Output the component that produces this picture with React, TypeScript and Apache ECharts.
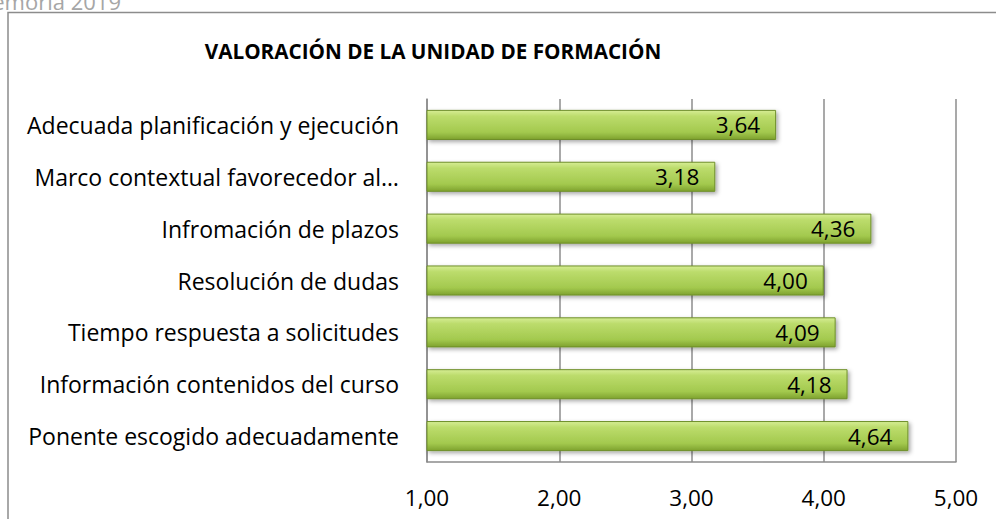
import React, { useEffect, useRef } from "react";
import * as echarts from "echarts";

const categories = [
  "Adecuada planificación y ejecución",
  "Marco contextual favorecedor al…",
  "Infromación de plazos",
  "Resolución de dudas",
  "Tiempo respuesta a solicitudes",
  "Información contenidos del curso",
  "Ponente escogido adecuadamente",
];
const values = [3.64, 3.18, 4.36, 4.0, 4.09, 4.18, 4.64];
const xTicks = [1, 2, 3, 4, 5];

const FONT = "'Open Sans', Lato, sans-serif";

export default function App() {
  const ref = useRef<HTMLDivElement>(null);
  useEffect(() => {
    if (!ref.current) return;
    const chart = echarts.init(ref.current, null, { renderer: "svg" });
    chart.setOption({
      animation: false,
      backgroundColor: "#ffffff",
      textStyle: { fontFamily: FONT },
      graphic: [
        {
          type: "polyline",
          shape: { points: [[8, 600], [8, 12.5], [1000, 12.5]] },
          style: { stroke: "#8c8c8c", lineWidth: 1.5, fill: null },
          silent: true,
        },
        {
          type: "text",
          x: 121,
          y: 12,
          style: {
            text: "Memoria 2019",
            fill: "#a6a6a6",
            font: `22px ${FONT}`,
            align: "right",
            verticalAlign: "bottom",
          },
        },
        {
          type: "text",
          x: 433,
          y: 51,
          style: {
            text: "VALORACIÓN DE LA UNIDAD DE FORMACIÓN",
            fill: "#000000",
            font: `bold 20.7px ${FONT}`,
            align: "center",
            verticalAlign: "middle",
          },
        },
      ],
      grid: { left: 427, right: 40, top: 99, bottom: 57, containLabel: false },
      xAxis: {
        type: "value",
        min: 1,
        max: 5,
        interval: 1,
        axisLine: { show: true, lineStyle: { color: "#8c8c8c", width: 1.5 } },
        axisTick: { show: false },
        splitLine: { show: true, lineStyle: { color: "#8c8c8c", width: 1.5 } },
        axisLabel: {
          color: "#000",
          fontSize: 22.5,
          fontFamily: FONT,
          margin: 24,
          formatter: (v: number) =>
            xTicks.includes(v) ? v.toFixed(2).replace(".", ",") : "",
        },
      },
      yAxis: {
        type: "category",
        data: categories,
        inverse: true,
        axisLine: { show: true, lineStyle: { color: "#8c8c8c", width: 1.5 } },
        axisTick: { show: false },
        axisLabel: { color: "#000", fontSize: 23, fontFamily: FONT, margin: 28 },
      },
      series: [
        {
          type: "bar",
          data: values,
          barCategoryGap: "42%",
          itemStyle: {
            color: new echarts.graphic.LinearGradient(0, 0, 0, 1, [
              { offset: 0, color: "#d6ed94" },
              { offset: 0.2, color: "#bcdc6c" },
              { offset: 0.75, color: "#a3c94e" },
              { offset: 1, color: "#7e a22e".replace(" ", "") },
            ]),
            borderColor: "#6e8f29",
            borderWidth: 1,
            shadowColor: "rgba(0,0,0,0.35)",
            shadowBlur: 4,
            shadowOffsetX: 2,
            shadowOffsetY: 2,
          },
          label: {
            show: true,
            position: "insideRight",
            distance: 16,
            color: "#000",
            fontSize: 22.5,
            fontFamily: FONT,
            formatter: (p: any) => p.value.toFixed(2).replace(".", ","),
          },
        },
      ],
    });
    return () => chart.dispose();
  }, []);
  return (
    <div
      ref={ref}
      style={{ position: "fixed", left: 0, top: 0, width: 996, height: 519 }}
    />
  );
}
